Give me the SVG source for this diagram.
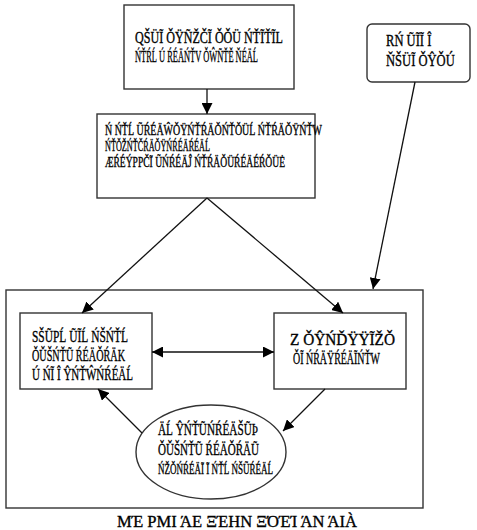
<svg xmlns="http://www.w3.org/2000/svg" width="477" height="530" viewBox="0 0 477 530">
<defs>
<marker id="ah" viewBox="0 0 10 10" refX="10" refY="5" markerWidth="11" markerHeight="11" markerUnits="userSpaceOnUse" orient="auto-start-reverse">
<path d="M0,0 L10,5 L0,10 z" fill="#000"/>
</marker>
</defs>
<style>
.box{fill:#fff;stroke:#333;stroke-width:1.4}
.edge{fill:none;stroke:#111;stroke-width:1.3;marker-end:url(#ah)}
text{font-family:"Liberation Serif","DejaVu Serif",serif;font-size:17px;fill:#000;stroke:#000;stroke-width:0.35}
.s{font-size:14px}
</style>
<rect width="477" height="530" fill="#fff"/>
<g id="cluster">
<rect class="box" x="6" y="290" width="417" height="218"/>
</g>
<g id="n1">
<rect class="box" x="124" y="5" width="170" height="84"/>
<text x="135" y="43" textLength="148" lengthAdjust="spacingAndGlyphs">QŠÜĨ ǑŸÑŽČĨ ǑǑÜ ŃŤĨŤĨL</text>
<text x="135" y="62" textLength="123" lengthAdjust="spacingAndGlyphs">ŃŤŔĹ Ú ŔÉÄŃŤV ǑŴÑŤĚ ŇÉÄĹ</text>
</g>
<g id="n2">
<rect class="box" x="367" y="24" width="103" height="58" rx="5"/>
<g transform="translate(386,0) scale(0.74,1)">
<text x="0" y="46">RŃ ŨĨĨ Î</text>
<text x="0" y="66">ŇŠÜĨ ǑŶǑÚ</text>
</g>
</g>
<g id="n3">
<rect class="box" x="97" y="114" width="218" height="84"/>
<text class="s" x="105" y="135" textLength="217" lengthAdjust="spacingAndGlyphs">Ń ŃŤĹ ŨŔÉÄŴǑŸŃŤŔÄǑŃŤǑÜĹ ŃŤŔÄǑŸŃŤW</text>
<text class="s" x="105" y="151" textLength="105" lengthAdjust="spacingAndGlyphs">ŃŤǑŽŃŤČŔÄǑŸŃŔÉÄŔÉÄĹ</text>
<text class="s" x="105" y="167" textLength="180" lengthAdjust="spacingAndGlyphs">ÆŔÉÝPPČĨ ŨŃŔÉÄĴ ŃŤŔÄǑÜŔÉÄÉŔǑÜĖ</text>
</g>
<g id="n4">
<rect class="box" x="20" y="313" width="132" height="76"/>
<text x="32" y="342" textLength="96" lengthAdjust="spacingAndGlyphs">SŠŨPĹ ŨĨĹ ŃŠŃŤĹ</text>
<text x="32" y="361" textLength="93" lengthAdjust="spacingAndGlyphs">ǑǓŠŃŤŨ ŔÉÄǑŔÄK</text>
<text x="32" y="380" textLength="101" lengthAdjust="spacingAndGlyphs">Ú ŃĨ Î ŶŃŤŴŃŔÉÄĹ</text>
</g>
<g id="n5">
<rect class="box" x="274" y="313" width="132" height="76"/>
<text x="290" y="345" textLength="105" lengthAdjust="spacingAndGlyphs">Z ǑŶŃĎŸŸĨŽǑ</text>
<text x="293" y="364" textLength="87" lengthAdjust="spacingAndGlyphs">ǑĨ ŃŔÄŸŔÉÄĨŃŤW</text>
</g>
<g id="n6">
<ellipse class="box" cx="211" cy="452" rx="75" ry="47"/>
<text x="158" y="435" textLength="100" lengthAdjust="spacingAndGlyphs">ÄĹ ŶŃŤŨŃŔÉÄŠŨÞ</text>
<text x="158" y="455" textLength="101" lengthAdjust="spacingAndGlyphs">ǑǓŠŃŤŨ ŔÉÄǑŔÄŨ</text>
<text class="s" x="158" y="474" textLength="115" lengthAdjust="spacingAndGlyphs">ŃŽǑŃŔÉÄĨ Ĩ ŃŤĹ ŃŠŨŔÉÄĹ</text>
</g>
<g id="caption">
<text x="117" y="527" textLength="240" lengthAdjust="spacingAndGlyphs">ΜΈ ΡΜΙ ΆΕ ΞΈΗΝ ΞΌΈΊ ΆΝ ΆΙÀ</text>
</g>
<g id="connectors">
<line class="edge" x1="207" y1="89" x2="207" y2="114"/>
<line class="edge" x1="415" y1="82" x2="373" y2="289"/>
<line class="edge" x1="207" y1="198" x2="82" y2="313"/>
<line class="edge" x1="207" y1="198" x2="343" y2="313"/>
<line class="edge" x1="152" y1="352" x2="274" y2="352" style="marker-start:url(#ah)"/>
<line class="edge" x1="325" y1="389" x2="283" y2="431"/>
<line class="edge" x1="142" y1="433" x2="98" y2="389"/>
</g>
</svg>
